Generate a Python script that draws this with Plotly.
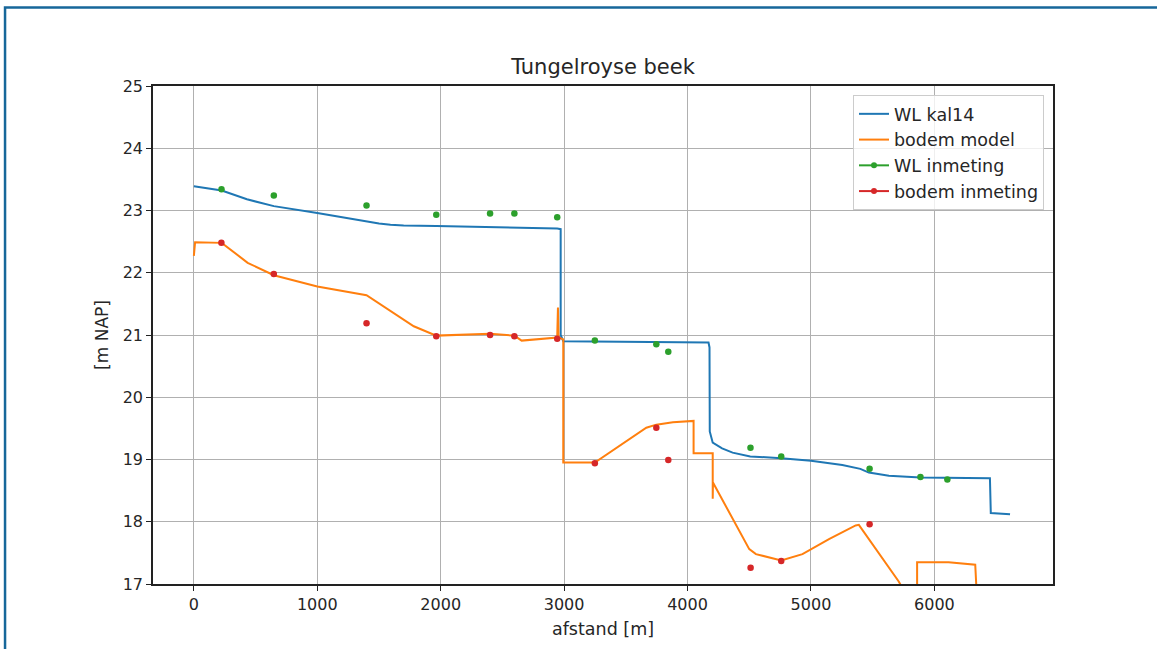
import plotly.graph_objects as go

# ---- data ----
wl_x = [0, 226, 430, 648, 1000, 1200, 1405, 1500, 1593, 1700, 1964, 2500, 2944, 2972, 2972, 2993,
        4170, 4178, 4180, 4204, 4280, 4365, 4508, 4759, 5000, 5254, 5400, 5469,
        5631, 5887, 6438, 6450, 6457, 6613]
wl_y = [23.39, 23.32, 23.18, 23.07, 22.96, 22.89, 22.82, 22.79, 22.77, 22.76, 22.75, 22.73, 22.71, 22.70, 21.0, 20.90,
        20.88, 20.80, 19.45, 19.27, 19.18, 19.11, 19.05, 19.02, 18.98, 18.91, 18.85, 18.79,
        18.74, 18.71, 18.70, 18.70, 18.14, 18.12]

bodem_x = [0, 10, 226, 436, 648, 1000, 1399, 1782, 1964, 2400, 2597, 2656, 2944, 2950, 2955,
           2993, 2993, 3249, 3666, 3747, 3881, 4042, 4049, 4049, 4204, 4204, 4206,
           4500, 4554, 4759, 4931, 5146, 5362, 5388, 5711, 5780, 5860, 5860, 6115, 6331, 6344]
bodem_y = [22.27, 22.49, 22.48, 22.16, 21.96, 21.78, 21.64, 21.14, 20.99, 21.02, 20.99, 20.91, 20.96, 21.44, 20.96,
           20.93, 18.95, 18.95, 19.51, 19.56, 19.60, 19.62, 19.62, 19.10, 19.10, 18.37, 18.63,
           17.56, 17.48, 17.38, 17.48, 17.72, 17.94, 17.95, 17.04, 16.80, 16.80, 17.35, 17.35, 17.31, 16.80]

wl_meet_x = [224, 648, 1399, 1964, 2400, 2597, 2944, 3249, 3747, 3844, 4510, 4759, 5475, 5887, 6105]
wl_meet_y = [23.34, 23.24, 23.08, 22.93, 22.95, 22.95, 22.89, 20.91, 20.85, 20.73, 19.19, 19.05, 18.85, 18.72, 18.68]

bodem_meet_x = [223, 648, 1399, 1964, 2400, 2597, 2944, 3249, 3747, 3844, 4511, 4759, 5475]
bodem_meet_y = [22.48, 21.98, 21.19, 20.98, 21.00, 20.98, 20.94, 18.94, 19.51, 18.99, 17.26, 17.37, 17.96]

x_ticks = [0, 1000, 2000, 3000, 4000, 5000, 6000]
y_ticks = [17, 18, 19, 20, 21, 22, 23, 24, 25]

C_BLUE = "#1f77b4"
C_ORANGE = "#ff7f0e"
C_GREEN = "#2ca02c"
C_RED = "#d62728"
FONT = "DejaVu Sans"

fig = go.Figure()
fig.add_trace(go.Scatter(x=wl_x, y=wl_y, mode="lines", name="WL kal14",
                         line=dict(color=C_BLUE, width=2), legendgroup="a"))
fig.add_trace(go.Scatter(x=bodem_x, y=bodem_y, mode="lines", name="bodem model",
                         line=dict(color=C_ORANGE, width=2), legendgroup="b"))
fig.add_trace(go.Scatter(x=wl_meet_x, y=wl_meet_y, mode="markers", name="WL inmeting",
                         marker=dict(color=C_GREEN, size=6.5), showlegend=False, legendgroup="c"))
fig.add_trace(go.Scatter(x=bodem_meet_x, y=bodem_meet_y, mode="markers", name="bodem inmeting",
                         marker=dict(color=C_RED, size=6.5), showlegend=False, legendgroup="d"))
# legend entries drawn as line+marker like the original
fig.add_trace(go.Scatter(x=[None], y=[None], mode="lines+markers", name="WL inmeting",
                         line=dict(color=C_GREEN, width=2), marker=dict(color=C_GREEN, size=6),
                         legendgroup="c"))
fig.add_trace(go.Scatter(x=[None], y=[None], mode="lines+markers", name="bodem inmeting",
                         line=dict(color=C_RED, width=2), marker=dict(color=C_RED, size=6),
                         legendgroup="d"))

axis_common = dict(
    showgrid=True, gridcolor="#b0b0b0", gridwidth=1,
    showline=True, linecolor="#222222", linewidth=1.5, mirror=True,
    ticks="outside", ticklen=5, tickwidth=1.2, tickcolor="#222222",
    tickfont=dict(family=FONT, size=16, color="#262626"),
    zeroline=False,
)

fig.update_layout(
    width=1157, height=649,
    margin=dict(l=153, r=104, t=86, b=65),
    paper_bgcolor="white", plot_bgcolor="white",
    font=dict(family=FONT, size=16, color="#262626"),
    title=dict(text="Tungelroyse beek", x=0.5, xref="paper", xanchor="center",
               y=1 - 67 / 649, yref="container", yanchor="middle",
               font=dict(family=FONT, size=21, color="#262626")),
    xaxis=dict(range=[-331, 6961], tickvals=x_ticks, ticktext=[str(v) for v in x_ticks],
               title=dict(text="afstand [m]", standoff=10, font=dict(family=FONT, size=17.5)),
               **axis_common),
    yaxis=dict(range=[17, 25], tickvals=y_ticks, ticktext=[str(v) for v in y_ticks],
               title=dict(text="[m NAP]", standoff=10, font=dict(family=FONT, size=17)),
               **axis_common),
    legend=dict(x=0.99, y=0.982, xanchor="right", yanchor="top",
                bgcolor="rgba(255,255,255,0.8)", bordercolor="#cccccc", borderwidth=1,
                font=dict(family=FONT, size=17.5, color="#262626"),
                traceorder="grouped", tracegroupgap=0),
    shapes=[dict(type="rect", xref="paper", yref="paper",
                 x0=-0.1644, x1=1.13, y0=-0.16, y1=1.1576,
                 line=dict(color="#17679a", width=2.5), fillcolor="rgba(0,0,0,0)",
                 layer="below")],
)

fig.write_html("out.html")
